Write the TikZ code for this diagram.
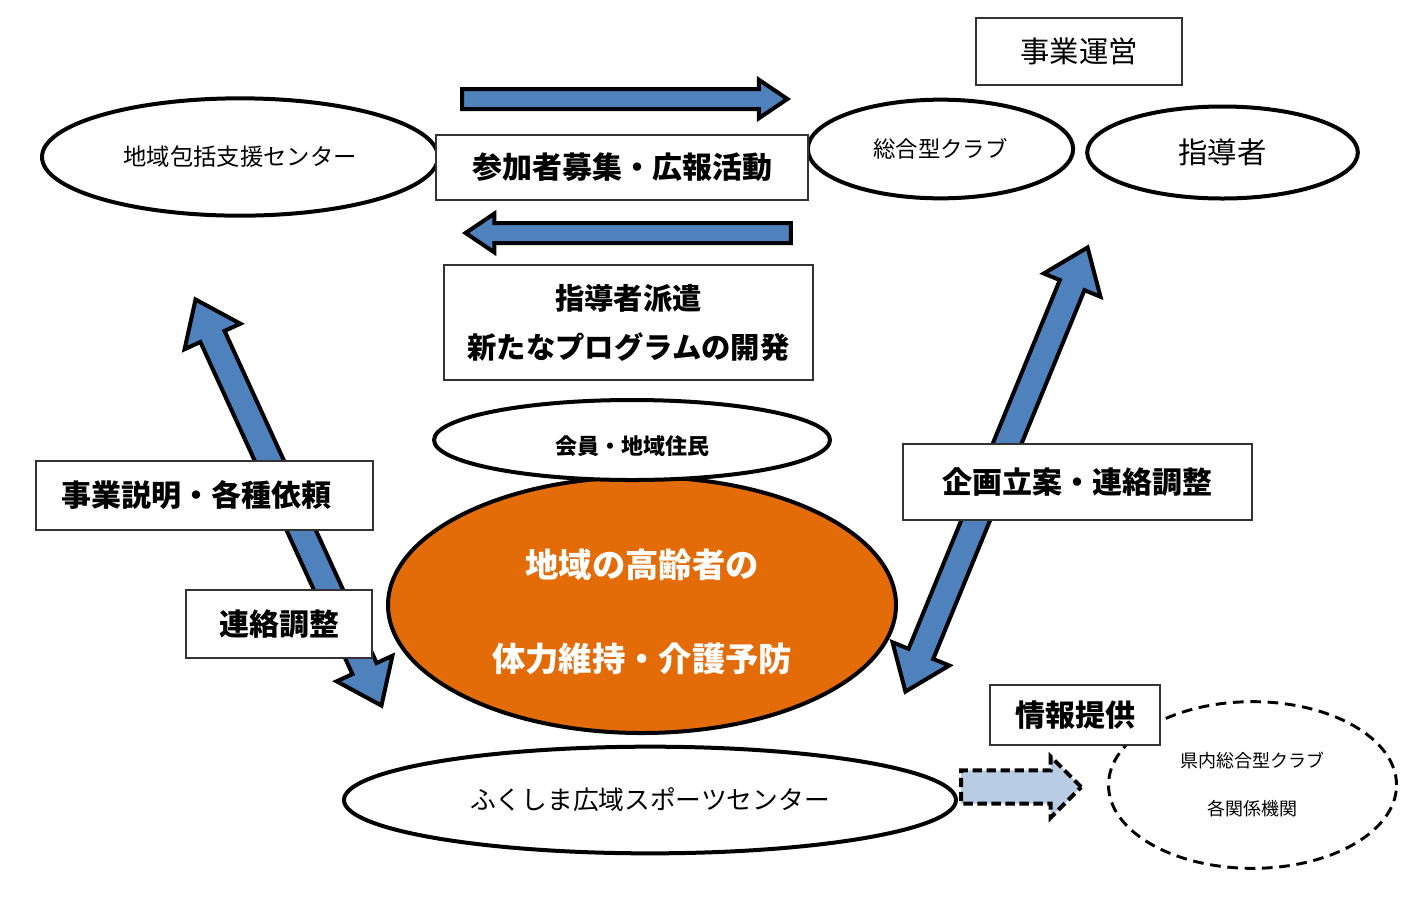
\documentclass[tikz,border=0pt]{standalone}
\usepackage{fontspec}
\setmainfont{Noto Sans CJK JP}
\usetikzlibrary{shapes.geometric,shapes.arrows}
\definecolor{arrowblue}{RGB}{79,129,189}
\definecolor{lightblue}{RGB}{184,204,228}
\definecolor{orangefill}{RGB}{227,108,9}
\newcommand\fsz[1]{\fontsize{#1}{#1}\selectfont}
\tikzset{
  ell/.style={ellipse, draw=black, line width=3pt, fill=white, inner sep=0pt},
  lbl/.style={rectangle, draw=black!80, line width=1.1pt, fill=white, inner sep=0pt,
    font=\bfseries\fsz{22.5}},
  harrow/.style={single arrow, draw=black, fill=arrowblue, line width=3pt, inner xsep=0pt, inner ysep=6pt,
    single arrow head extend=7pt, single arrow tip angle=68},
  darrow/.style={double arrow, draw=black, fill=arrowblue, line width=3pt, inner xsep=0pt, inner ysep=8.5pt,
    double arrow head extend=13pt, double arrow tip angle=74},
  dasharrow/.style={single arrow, draw=black, fill=lightblue, line width=3pt, dash pattern=on 7pt off 3.5pt,
    inner xsep=0pt, inner ysep=10.9pt, single arrow head extend=10.5pt, single arrow tip angle=90}
}
\begin{document}
\begin{tikzpicture}[x=0.75pt,y=-0.75pt]
\fill[white] (0,0) rectangle (1423,915);
\useasboundingbox (0,0) rectangle (1423,915);

% ellipses
\node[ell, minimum width=297pt, minimum height=88pt, font=\fsz{17.5}] (hok) at (240,157) {地域包括支援センター};
\node[ell, minimum width=199pt, minimum height=74pt, font=\fsz{16.8}] (club) at (940.5,149) {総合型クラブ};
\node[ell, minimum width=203pt, minimum height=69pt, font=\fsz{22}] (shido) at (1222.5,152.5) {\raisebox{-2pt}{指導者}};
\node[ell, fill=orangefill, minimum width=381pt, minimum height=192pt] (core) at (642,605) {};
\node[text=white, align=center, inner sep=0pt, font=\bfseries\fontsize{25}{71}\selectfont] (coretext) at (642,612) {地域の高齢者の\\体力維持・介護予防};
\node[ell, minimum width=297pt, minimum height=60pt, font=\bfseries\fsz{16.5}] (kaiin) at (632,440) {\raisebox{-11pt}[0pt][0pt]{会員・地域住民}};
\node[ell, minimum width=459pt, minimum height=80pt, font=\fsz{19.3}] (fsc) at (650,800) {ふくしま広域スポーツセンター};
\node[ell, line width=2.2pt, dash pattern=on 8pt off 5pt, minimum width=216pt, minimum height=125pt, align=center,
      font=\fontsize{13.5}{36}\selectfont] (kennai) at (1252.5,785) {県内総合型クラブ\\各関係機関};

% arrows
\node[harrow, minimum height=244pt, anchor=tip] (arA) at (791,99) {};
\node[harrow, minimum height=244pt, rotate=180, anchor=tip] (arB) at (462,233) {};
\node[darrow, minimum height=335pt, rotate=-65.4] (arL) at (288.5,502.5) {};
\node[darrow, minimum height=360pt, rotate=67.7] (arR) at (996.5,469.5) {};
\node[dasharrow, minimum height=90pt, anchor=tip] (arD) at (1084,787) {};

% boxes
\node[lbl, minimum width=279pt, minimum height=48.75pt] (boshu) at (622,167.5) {\raisebox{-2pt}{参加者募集・広報活動}};
\node[lbl, minimum width=276.75pt, minimum height=86.25pt, align=center,
      font=\bfseries\fontsize{22}{36.75}\selectfont] (haken) at (628.5,322.5) {指導者派遣\\新たなプログラムの開発};
\node[lbl, minimum width=154.5pt, minimum height=50.25pt, font=\fsz{22}] (unei) at (1079,51.5) {事業運営};
\node[lbl, minimum width=252.75pt, minimum height=51.75pt] (setsumei) at (204.5,495.5) {\hspace*{-12pt}事業説明・各種依頼};
\node[lbl, minimum width=139.5pt, minimum height=51pt] (renraku) at (279,624) {連絡調整};
\node[lbl, minimum width=261.75pt, minimum height=57pt] (kikaku) at (1077.5,482) {企画立案・連絡調整};
\node[lbl, minimum width=127.5pt, minimum height=45pt] (joho) at (1075,715) {\raisebox{-2pt}{情報提供}};
\end{tikzpicture}
\end{document}
